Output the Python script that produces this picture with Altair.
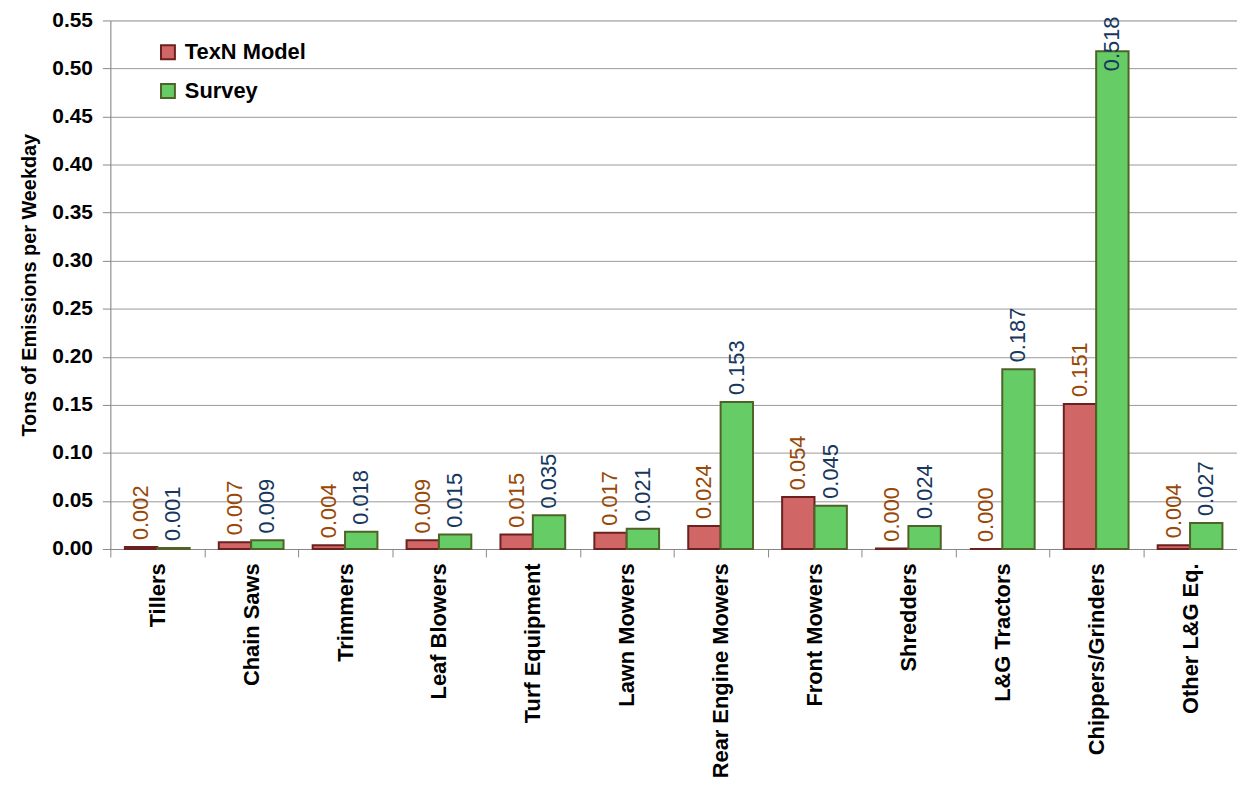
import altair as alt
import pandas as pd

categories = ["Tillers", "Chain Saws", "Trimmers", "Leaf Blowers", "Turf Equipment",
              "Lawn Mowers", "Rear Engine Mowers", "Front Mowers", "Shredders",
              "L&G Tractors", "Chippers/Grinders", "Other L&G Eq."]
series_names = ["TexN Model", "Survey"]
texn_values = [0.002, 0.007, 0.004, 0.009, 0.015, 0.017, 0.024, 0.054, 0.0004, 0.0, 0.151, 0.004]
survey_values = [0.001, 0.009, 0.018, 0.015, 0.035, 0.021, 0.153, 0.045, 0.024, 0.187, 0.518, 0.027]
y_ticks = [0.0, 0.05, 0.10, 0.15, 0.20, 0.25, 0.30, 0.35, 0.40, 0.45, 0.50, 0.55]

fill_colors = ["#D06666", "#66CC66"]
stroke_colors = ["#6B2120", "#4F6228"]
label_colors = ["#984807", "#17375E"]

rows = []
for c, a, b in zip(categories, texn_values, survey_values):
    rows.append({"category": c, "series": series_names[0], "value": a})
    rows.append({"category": c, "series": series_names[1], "value": b})
df = pd.DataFrame(rows)

FONT = "Liberation Sans"
Y_TITLE = "Tons of Emissions per Weekday"

x_enc = alt.X("category:N", sort=categories,
              scale=alt.Scale(paddingInner=0, paddingOuter=0),
              axis=alt.Axis(title=None, labelAngle=-90, labelAlign="right",
                            labelBaseline="middle", labelFont=FONT, labelFontSize=22,
                            labelFontWeight="bold", labelColor="black", labelLimit=0,
                            tickBand="extent", tickSize=8, tickColor="#888888",
                            domainColor="#888888", labelPadding=6, grid=False))
xoff_enc = alt.XOffset("series:N", sort=series_names,
                       scale=alt.Scale(paddingOuter=0.45, paddingInner=0))

y_axis = alt.Axis(values=y_ticks, format=".2f", title=Y_TITLE,
                  titleFont=FONT, titleFontSize=20, titleFontWeight="bold",
                  titleColor="black", titlePadding=12,
                  labelFont=FONT, labelFontSize=21, labelFontWeight="bold",
                  labelColor="black", tickSize=8, tickColor="#888888",
                  domainColor="#888888", gridColor="#999999", labelPadding=10)
y_scale = alt.Scale(domain=[0, 0.55], nice=False)

legend_cfg = alt.Legend(title=None, orient="none", legendX=47, legendY=21,
                        labelFont=FONT, labelFontSize=22, labelFontWeight="bold",
                        labelColor="black", symbolType="square", symbolSize=196,
                        symbolStrokeWidth=2, rowPadding=17, labelOffset=6, padding=0)

bars = alt.Chart(df).mark_bar(strokeWidth=2).encode(
    x=x_enc,
    xOffset=xoff_enc,
    y=alt.Y("value:Q", scale=y_scale, axis=y_axis, title=Y_TITLE),
    fill=alt.Fill("series:N", sort=series_names,
                  scale=alt.Scale(domain=series_names, range=fill_colors),
                  legend=legend_cfg),
    stroke=alt.Stroke("series:N", sort=series_names,
                      scale=alt.Scale(domain=series_names, range=stroke_colors),
                      legend=legend_cfg),
)

labels = alt.Chart(df).transform_calculate(
    labelpos="min(datum.value, 0.49)"
).mark_text(angle=270, align="left", baseline="middle", dx=7,
            font=FONT, fontSize=22).encode(
    x=x_enc,
    xOffset=xoff_enc,
    y=alt.Y("labelpos:Q", scale=y_scale, axis=y_axis, title=Y_TITLE),
    text=alt.Text("value:Q", format=".3f"),
    color=alt.Color("series:N", sort=series_names,
                    scale=alt.Scale(domain=series_names, range=label_colors),
                    legend=None),
)

chart = alt.layer(bars, labels).properties(
    width=1134, height=532,
    autosize=alt.AutoSizeParams(type="none"),
    padding={"left": 103, "top": 10, "right": 0, "bottom": 233},
).configure_view(stroke=None).configure(background="white")

chart.save("out.html", embed_options={"renderer": "svg", "actions": False})
